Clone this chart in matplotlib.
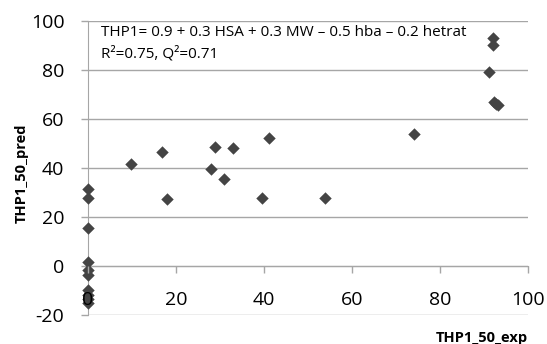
import matplotlib.pyplot as plt

# --- dados ---
exp_vals = [0, 0, 0, 0, 0, 0, 0, 0, 0, 0,
            9.8, 16.7, 18.0, 28.0, 28.9, 31.0, 33.0, 39.5, 41.1, 53.9,
            74.1, 91.1, 92.0, 92.0, 92.3, 92.7, 93.3]
pred_vals = [31.3, 27.6, 15.4, 1.6, -1.6, -3.7, -10.0, -12.0, -13.5, -15.0,
             41.5, 46.4, 27.5, 39.6, 48.7, 35.5, 48.2, 27.8, 52.1, 27.8,
             54.0, 79.1, 92.9, 90.2, 66.8, 66.2, 65.7]

x_ticks = [0, 20, 40, 60, 80, 100]
y_ticks = [-20, 0, 20, 40, 60, 80, 100]

equation = "THP1= 0.9 + 0.3 HSA + 0.3 MW \u2013 0.5 hba \u2013 0.2 hetrat"
stats_txt = "R\u00b2=0.75, Q\u00b2=0.71"

plt.rcParams['font.family'] = ['Open Sans', 'DejaVu Sans']
plt.rcParams['axes.unicode_minus'] = False
GRID = '#a6a6a6'

fig = plt.figure(figsize=(5.47, 3.44), dpi=100)
ax = fig.add_axes([0.161, 0.0843, 0.804, 0.8547])

ax.set_xlim(0, 100)
ax.set_ylim(-20, 100)
ax.set_yticks(y_ticks)
ax.set_xticks(x_ticks)
ax.yaxis.grid(True, color=GRID, linewidth=1.0)
ax.set_axisbelow(True)
ax.xaxis.set_zorder(4)  # o "0" fica por cima dos marcadores

for side in ['top', 'right']:
    ax.spines[side].set_visible(False)
ax.spines['left'].set_color(GRID)
ax.spines['left'].set_position(('data', 0))
ax.spines['bottom'].set_color(GRID)
ax.spines['bottom'].set_position(('data', 0))

ax.tick_params(axis='y', colors=GRID, length=5, width=1, labelsize=14,
               labelcolor='black', pad=12)
ax.tick_params(axis='x', colors=GRID, length=5, width=1, labelsize=14,
               labelcolor='black', pad=13)

ax.scatter(exp_vals, pred_vals, marker='D', s=40, color='#444444',
           linewidths=0, zorder=3, clip_on=False)

ax.text(0.03, 0.985, equation, transform=ax.transAxes, fontsize=11,
        va='top', ha='left')
ax.text(0.03, 0.915, stats_txt, transform=ax.transAxes, fontsize=11,
        va='top', ha='left')

fig.text(0.04, 0.495, "THP1_50_pred", rotation=90, fontsize=10.5,
         fontweight='bold', ha='center', va='center')
fig.text(0.965, 0.018, "THP1_50_exp", fontsize=10.5, fontweight='bold',
         ha='right', va='center')

plt.savefig('out.png', dpi=100)
